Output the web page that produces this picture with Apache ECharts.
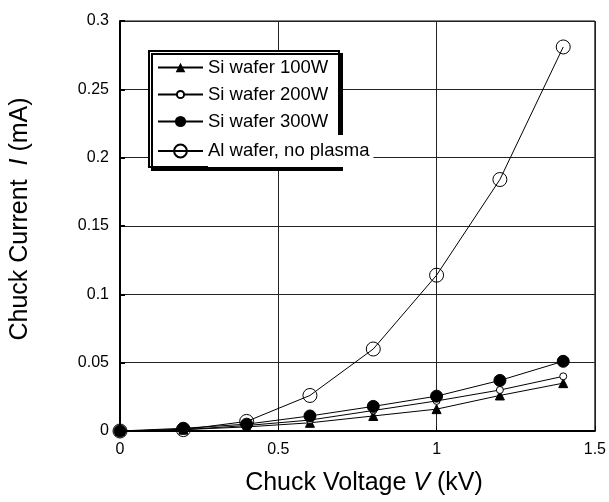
<!DOCTYPE html>
<html>
<head>
<meta charset="utf-8">
<script src="https://cdn.jsdelivr.net/npm/echarts@6/dist/echarts.min.js"></script>
<style>
  html, body { margin: 0; padding: 0; background: #fff; }
  #chart { width: 609px; height: 502px; }
</style>
</head>
<body>
<div id="chart"></div>
<script>
(function() {
  // data
  var voltage = [0, 0.2, 0.4, 0.6, 0.8, 1.0, 1.2, 1.4];
  var si100 = [0, 0.001, 0.003, 0.006, 0.011, 0.016, 0.026, 0.035];
  var si200 = [0, 0.001, 0.004, 0.008, 0.015, 0.022, 0.030, 0.040];
  var si300 = [0, 0.002, 0.005, 0.011, 0.018, 0.0255, 0.037, 0.051];
  var alNoPlasma = [0, 0.001, 0.007, 0.026, 0.060, 0.114, 0.184, 0.281];
  var seriesNames = ['Si wafer 100W', 'Si wafer 200W', 'Si wafer 300W', 'Al wafer, no plasma'];

  function pairs(ys) {
    return voltage.map(function(x, i) { return [x, ys[i]]; });
  }

  var myChart = echarts.init(document.getElementById('chart'));
  var font = 'Liberation Sans, Arial, sans-serif';

  // one legend per series so each keeps its own marker size
  var legendRows = [58, 85, 112, 142];
  var legendIconH = [12, 9, 14, 16];
  var legends = seriesNames.map(function(name, i) {
    var lg = {
      data: [name],
      orient: 'vertical',
      left: 157, top: legendRows[i],
      padding: 0,
      itemWidth: 45, itemHeight: legendIconH[i],
      z: 5,
      textStyle: { fontSize: 18.5, color: '#000', fontFamily: font }
    };
    if (i === 3) {
      lg.textStyle.backgroundColor = '#fff';
      lg.textStyle.padding = [7, 4, 6, 0];
      lg.top = legendRows[i] - 7;
    }
    return lg;
  });

  var option = {
    animation: false,
    textStyle: { fontFamily: font, color: '#000' },
    grid: {
      left: 120, right: 14, top: 21, bottom: 71,
      show: true, borderColor: '#000', borderWidth: 1
    },
    graphic: [{
      type: 'rect',
      z: 3,
      shape: { x: 149, y: 51, width: 190, height: 116 },
      style: {
        fill: '#fff', stroke: '#000', lineWidth: 2,
        shadowColor: '#000', shadowBlur: 0, shadowOffsetX: 3, shadowOffsetY: 3
      }
    }],
    legend: legends,
    xAxis: {
      type: 'value', min: 0, max: 1.5, interval: 0.5,
      name: '{a|Chuck Voltage }{i|V}{a| (kV)}',
      nameLocation: 'middle', nameGap: 40,
      nameTextStyle: {
        padding: [0, 0, 0, 13],
        rich: {
          a: { fontSize: 25, fontFamily: font, color: '#000' },
          i: { fontSize: 25, fontFamily: font, fontStyle: 'italic', color: '#000' }
        }
      },
      axisLine: { lineStyle: { color: '#000', width: 2 } },
      axisTick: { show: true, inside: true, length: 5, lineStyle: { color: '#000' } },
      axisLabel: { fontSize: 16, color: '#000', margin: 11 },
      splitLine: { show: true, lineStyle: { color: '#222', width: 1 } }
    },
    yAxis: {
      type: 'value', min: 0, max: 0.3, interval: 0.05,
      name: '{a|Chuck Current  }{i|I}{a| (mA)}',
      nameLocation: 'middle', nameGap: 87, nameRotate: 90,
      nameTextStyle: {
        padding: [0, 0, 0, 14],
        rich: {
          a: { fontSize: 25, fontFamily: font, color: '#000' },
          i: { fontSize: 25, fontFamily: font, fontStyle: 'italic', color: '#000' }
        }
      },
      axisLine: { show: true, lineStyle: { color: '#000', width: 2 } },
      axisTick: { show: true, inside: true, length: 5, lineStyle: { color: '#000', width: 2 } },
      axisLabel: { fontSize: 16, color: '#000', margin: 11 },
      splitLine: { show: true, lineStyle: { color: '#222', width: 1 } }
    },
    series: [
      {
        name: seriesNames[0], type: 'line', data: pairs(si100),
        symbol: 'triangle', symbolSize: 9,
        lineStyle: { color: '#000', width: 1 },
        itemStyle: { color: '#000', borderColor: '#000' }
      },
      {
        name: seriesNames[1], type: 'line', data: pairs(si200),
        symbol: 'circle', symbolSize: 7,
        lineStyle: { color: '#000', width: 1 },
        itemStyle: { color: '#fff', borderColor: '#000', borderWidth: 1 }
      },
      {
        name: seriesNames[2], type: 'line', data: pairs(si300),
        symbol: 'circle', symbolSize: 12,
        lineStyle: { color: '#000', width: 1 },
        itemStyle: { color: '#000', borderColor: '#000' }
      },
      {
        name: seriesNames[3], type: 'line', data: pairs(alNoPlasma),
        symbol: 'circle', symbolSize: 14,
        lineStyle: { color: '#000', width: 1 },
        itemStyle: { color: 'rgba(255,255,255,0)', borderColor: '#000', borderWidth: 1 }
      }
    ]
  };

  myChart.setOption(option);
  window.addEventListener('resize', function() {
    myChart.resize();
  });
})();
</script>
</body>
</html>
